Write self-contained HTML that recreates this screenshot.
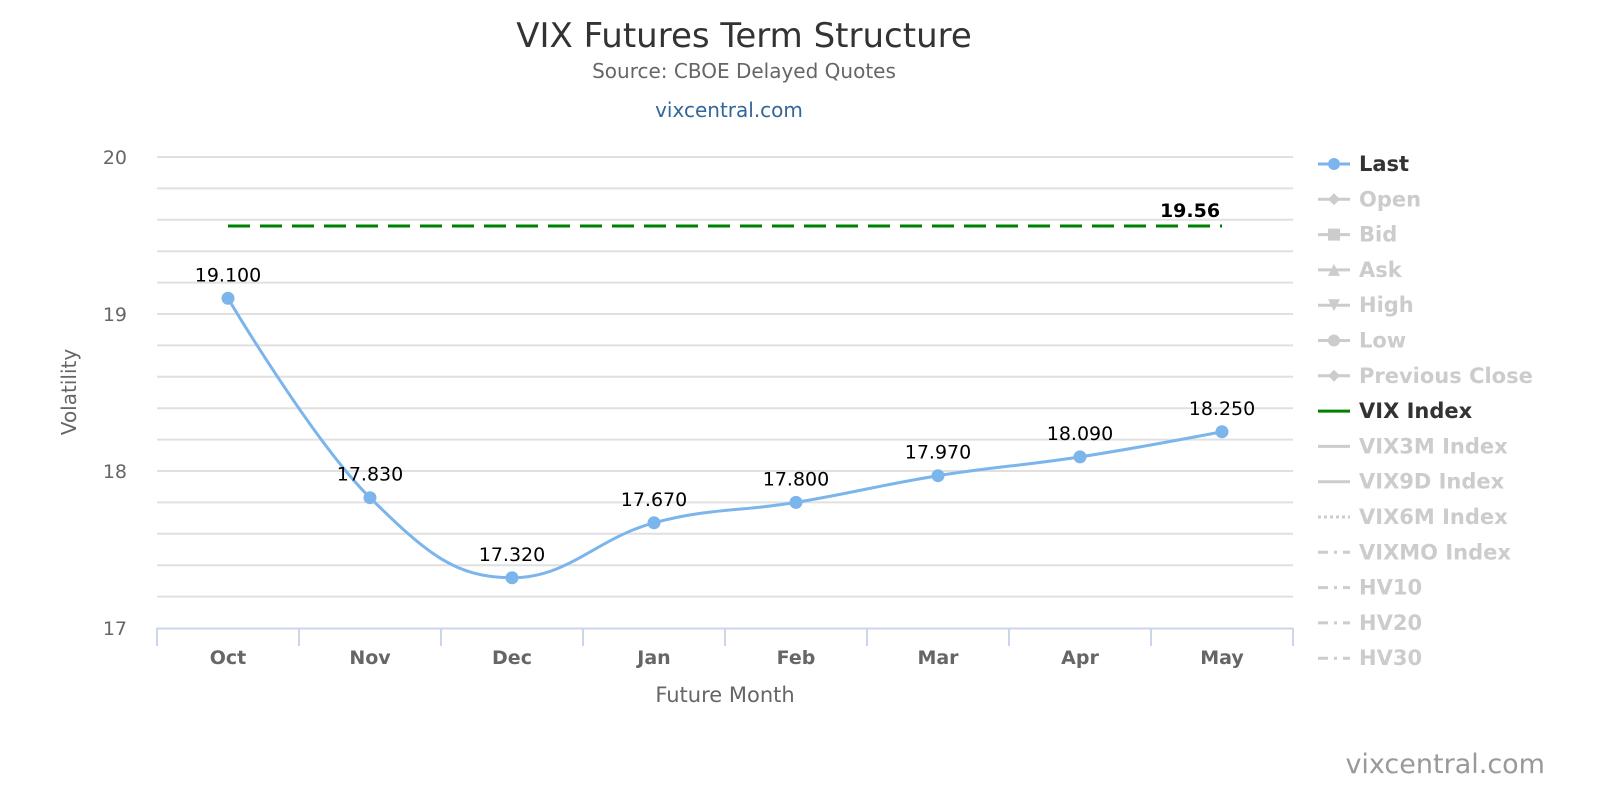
<!DOCTYPE html>
<html><head><meta charset="utf-8"><style>
html,body{margin:0;padding:0;background:#fff;overflow:hidden;width:1600px;height:800px}
svg{display:block;font-family:"DejaVu Sans","Liberation Sans",sans-serif}
</style></head><body>
<svg id="c" width="1600" height="800" viewBox="0 0 1600 800" xmlns="http://www.w3.org/2000/svg">
<rect width="1600" height="800" fill="#fff"/>
<text x="744" y="47" text-anchor="middle" font-size="34" fill="#333">VIX Futures Term Structure</text>
<text x="744" y="78" text-anchor="middle" font-size="20" fill="#666">Source: CBOE Delayed Quotes</text>
<text x="729" y="117" text-anchor="middle" font-size="20" fill="#336699">vixcentral.com</text>
<g id="grid" stroke="#e0e0e0" stroke-width="2"></g>
<g font-size="19" fill="#666" text-anchor="end">
<text x="127" y="164">20</text><text x="127" y="321">19</text><text x="127" y="478">18</text><text x="127" y="635">17</text>
</g>
<text transform="translate(76,392) rotate(-90)" text-anchor="middle" font-size="20" fill="#666">Volatility</text>
<line x1="157" y1="628.5" x2="1293" y2="628.5" stroke="#ccd6eb" stroke-width="2"/>
<g id="ticks" stroke="#ccd6eb" stroke-width="2"></g>
<g id="xl" font-size="19" font-weight="bold" fill="#666" text-anchor="middle"></g>
<text x="725" y="702" text-anchor="middle" font-size="21" fill="#666">Future Month</text>
<line x1="228" y1="226" x2="1222" y2="226" stroke="#008000" stroke-width="3" stroke-dasharray="22,10"/>
<text x="1190" y="217" text-anchor="middle" font-size="19" font-weight="bold" fill="#000">19.56</text>
<path id="sp" fill="none" stroke="#7cb5ec" stroke-width="3"/>
<g id="pts"></g>
<g id="lg"></g>
<text x="1545" y="773" text-anchor="end" font-size="27" fill="#999">vixcentral.com</text>
</svg>
<script>
var ns="http://www.w3.org/2000/svg";
function el(p,t,a,txt){var e=document.createElementNS(ns,t);for(var k in a)e.setAttribute(k,a[k]);if(txt!=null)e.textContent=txt;document.getElementById(p).appendChild(e);return e;}
for(var i=0;i<15;i++){var y=157+i*31.4;el("grid","line",{x1:157,x2:1293,y1:y,y2:y});}
var m=["Oct","Nov","Dec","Jan","Feb","Mar","Apr","May"];
for(var i=0;i<=8;i++){var x=157+i*142;el("ticks","line",{x1:x,x2:x,y1:628,y2:646});}
var v=[19.1,17.83,17.32,17.67,17.8,17.97,18.09,18.25];
var P=v.map(function(d,i){return [228+i*142,628-(d-17)*157];});
for(var i=0;i<8;i++)el("xl","text",{x:P[i][0],y:664},m[i]);
var d="M"+P[0][0]+" "+P[0][1];var prevR=P[0];
for(var i=1;i<8;i++){var p=P[i],l=P[i-1],n=P[i+1],L,R;
 if(n){var lx=(1.5*p[0]+l[0])/2.5,ly=(1.5*p[1]+l[1])/2.5,rx=(1.5*p[0]+n[0])/2.5,ry=(1.5*p[1]+n[1])/2.5;
 var c=((ry-ly)*(rx-p[0]))/(rx-lx)+p[1]-ry;ly+=c;ry+=c;
 if(ly>Math.max(l[1],p[1])){ly=Math.max(l[1],p[1]);ry=2*p[1]-ly;}else if(ly<Math.min(l[1],p[1])){ly=Math.min(l[1],p[1]);ry=2*p[1]-ly;}
 if(ry>Math.max(n[1],p[1])){ry=Math.max(n[1],p[1]);ly=2*p[1]-ry;}else if(ry<Math.min(n[1],p[1])){ry=Math.min(n[1],p[1]);ly=2*p[1]-ry;}
 L=[lx,ly];R=[rx,ry];}else{L=p;R=p;}
 d+=" C"+prevR[0]+" "+prevR[1]+" "+L[0]+" "+L[1]+" "+p[0]+" "+p[1];prevR=R;}
document.getElementById("sp").setAttribute("d",d);
for(var i=0;i<8;i++){el("pts","circle",{cx:P[i][0],cy:P[i][1],r:6.5,fill:"#7cb5ec"});
 el("pts","text",{x:P[i][0],y:P[i][1]-17,"text-anchor":"middle","font-size":19,fill:"#000"},v[i].toFixed(3));}
var items=[["Last","#333","#7cb5ec","c",""],["Open","#ccc","#ccc","d",""],["Bid","#ccc","#ccc","s",""],["Ask","#ccc","#ccc","t",""],["High","#ccc","#ccc","v",""],["Low","#ccc","#ccc","c",""],["Previous Close","#ccc","#ccc","d",""],["VIX Index","#333","#008000","",""],["VIX3M Index","#ccc","#ccc","",""],["VIX9D Index","#ccc","#ccc","",""],["VIX6M Index","#ccc","#ccc","","3,3"],["VIXMO Index","#ccc","#ccc","","10,6,3,6"],["HV10","#ccc","#ccc","","10,6,3,6"],["HV20","#ccc","#ccc","","10,6,3,6"],["HV30","#ccc","#ccc","","10,6,3,6"]];
items.forEach(function(it,i){var y=164+i*35.3;
 var a={x1:1318,x2:1350,y1:y,y2:y,stroke:it[2],"stroke-width":3};if(it[4])a["stroke-dasharray"]=it[4];el("lg","line",a);
 var cx=1334,s=it[3];
 if(s=="c")el("lg","circle",{cx:cx,cy:y,r:6,fill:it[2]});
 if(s=="d")el("lg","path",{d:"M"+cx+" "+(y-6)+"l6 6l-6 6l-6-6z",fill:it[2]});
 if(s=="s")el("lg","rect",{x:cx-6,y:y-6,width:12,height:12,fill:it[2]});
 if(s=="t")el("lg","path",{d:"M"+cx+" "+(y-6)+"l6 12h-12z",fill:it[2]});
 if(s=="v")el("lg","path",{d:"M"+(cx-6)+" "+(y-6)+"h12l-6 12z",fill:it[2]});
 el("lg","text",{x:1359,y:y+7,"font-size":21,"font-weight":"bold",fill:it[1]},it[0]);});
</script>
</body></html>
